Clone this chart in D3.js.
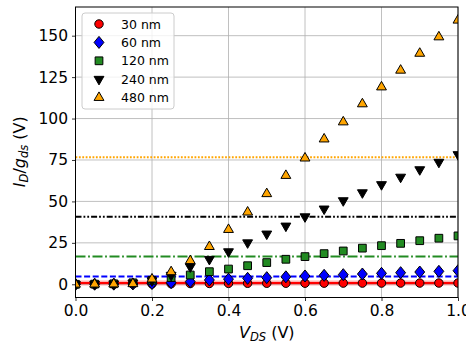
<!DOCTYPE html>
<html>
<head>
<meta charset="utf-8">
<script src="https://cdn.jsdelivr.net/npm/d3@7"></script>
<style>
  body { margin: 0; background: #fff; }
  text { font-family: "DejaVu Sans", sans-serif; }
</style>
</head>
<body>
<div id="chart"></div>
<script>
// V_DS sweep
var vds = [0, 0.05, 0.1, 0.15, 0.2, 0.25, 0.3, 0.35, 0.4, 0.45, 0.5,
           0.55, 0.6, 0.65, 0.7, 0.75, 0.8, 0.85, 0.9, 0.95, 1.0];

// I_D/g_ds per channel length
var l30  = [0, 0.03, 0.08, 0.15, 0.25, 0.35, 0.45, 0.5, 0.55, 0.6, 0.62,
            0.64, 0.66, 0.68, 0.7, 0.71, 0.72, 0.73, 0.74, 0.75, 0.76];
var l60  = [0, 0.05, 0.1, 0.2, 0.5, 1.0, 1.6, 2.6, 3.1, 3.6, 4.0,
            4.5, 5.0, 5.4, 5.8, 6.2, 6.6, 7.0, 7.4, 7.8, 8.2];
var l120 = [0, 0.1, 0.3, 0.9, 2.4, 4.0, 5.6, 7.6, 9.2, 11.2, 13.1,
            15.1, 16.7, 18.5, 20.1, 21.8, 23.3, 24.7, 26.3, 27.8, 29.2];
var l240 = [0, 0.1, 0.3, 0.8, 2.2, 5.5, 10.6, 15.1, 19.7, 25.1, 30.4,
            35.2, 40.8, 45.5, 50.5, 55.3, 60.2, 64.7, 69.2, 73.7, 78.3];
var l480 = [0, 0.05, 0.15, 0.3, 3.1, 7.5, 14.2, 22.7, 33.0, 43.5, 54.6,
            65.6, 76.1, 87.6, 97.9, 108.8, 119.0, 129.1, 139.3, 149.2, 159.3];

// horizontal reference levels
var refLevels = [0.8, 4.7, 16.7, 40.7, 76.6];

var labels = ["30 nm", "60 nm", "120 nm", "240 nm", "480 nm"];
var xTicks = [0, 0.2, 0.4, 0.6, 0.8, 1.0];
var yTicks = [0, 25, 50, 75, 100, 125, 150];

var series = [
  {name: labels[0], y: l30,  ref: refLevels[0], color: "#ff0000", shape: d3.symbolCircle,   size: 56, dash: null},
  {name: labels[1], y: l60,  ref: refLevels[1], color: "#0000ff", shape: d3.symbolDiamond,  size: 60, dash: "6,2.6"},
  {name: labels[2], y: l120, ref: refLevels[2], color: "#228b22", shape: d3.symbolSquare,   size: 60, dash: "10,2.6,1.8,2.6"},
  {name: labels[3], y: l240, ref: refLevels[3], color: "#000000", shape: "down",            size: 42, dash: "6,2,1.8,2,1.8,2"},
  {name: labels[4], y: l480, ref: refLevels[4], color: "#ffa500", shape: d3.symbolTriangle, size: 42, dash: "1.8,1.6"}
];

var W = 466, H = 343;
var m = {left: 75.5, right: 8, top: 7, bottom: 45.5};

var svg = d3.select("#chart").append("svg")
    .attr("width", W).attr("height", H);

var x = d3.scaleLinear().domain([0, 1]).range([m.left, W - m.right]);
var y = d3.scaleLinear().domain([-7.97, 167.3]).range([H - m.bottom, m.top]);

// grid
var grid = svg.append("g");
grid.selectAll(".gx").data(xTicks).enter().append("line")
    .attr("x1", d => x(d)).attr("x2", d => x(d))
    .attr("y1", m.top).attr("y2", H - m.bottom)
    .attr("stroke", "#b0b0b0").attr("stroke-width", 0.8);
grid.selectAll(".gy").data(yTicks).enter().append("line")
    .attr("x1", m.left).attr("x2", W - m.right)
    .attr("y1", d => y(d)).attr("y2", d => y(d))
    .attr("stroke", "#b0b0b0").attr("stroke-width", 0.8);

var plot = svg.append("g");

// reference lines
series.forEach(function(s, i) {
  if (i === 0) {
    plot.append("line")
      .attr("x1", m.left).attr("x2", W - m.right)
      .attr("y1", y(s.ref)).attr("y2", y(s.ref))
      .attr("stroke", s.color).attr("stroke-opacity", 0.3).attr("stroke-width", 5);
  }
  var ln = plot.append("line")
    .attr("x1", m.left).attr("x2", W - m.right)
    .attr("y1", y(s.ref)).attr("y2", y(s.ref))
    .attr("stroke", s.color).attr("stroke-width", 2);
  if (s.dash) ln.attr("stroke-dasharray", s.dash);
});

function symTransform(s, px, py) {
  if (s.shape === "down") return "translate(" + px + "," + py + ") rotate(180)";
  if (s.shape === d3.symbolDiamond) return "translate(" + px + "," + py + ") scale(0.9,1.1) rotate(45)";
  return "translate(" + px + "," + py + ")";
}
function markerD(s) {
  if (s.shape === d3.symbolDiamond) return d3.symbol(d3.symbolSquare, s.size)();
  if (s.shape === "down") return d3.symbol(d3.symbolTriangle, s.size)();
  return d3.symbol(s.shape, s.size)();
}

// markers
svg.append("clipPath").attr("id", "clip").append("rect")
    .attr("x", m.left).attr("y", m.top)
    .attr("width", W - m.left - m.right).attr("height", H - m.top - m.bottom);
var marks = svg.append("g").attr("clip-path", "url(#clip)");
series.forEach(function(s) {
  marks.append("g").selectAll("path").data(vds).enter().append("path")
    .attr("d", markerD(s))
    .attr("transform", (d, i) => symTransform(s, x(d), y(s.y[i])))
    .attr("fill", s.color)
    .attr("stroke", "#000").attr("stroke-width", 1)
    .attr("vector-effect", "non-scaling-stroke");
});

// axes box
svg.append("rect")
  .attr("x", m.left).attr("y", m.top)
  .attr("width", W - m.left - m.right).attr("height", H - m.top - m.bottom)
  .attr("fill", "none").attr("stroke", "#000").attr("stroke-width", 1);

var xAxis = svg.append("g")
  .attr("transform", "translate(0," + (H - m.bottom) + ")")
  .call(d3.axisBottom(x).tickValues(xTicks).tickFormat(d3.format(".1f")).tickSize(3.5).tickPadding(4));
var yAxis = svg.append("g")
  .attr("transform", "translate(" + m.left + ",0)")
  .call(d3.axisLeft(y).tickValues(yTicks).tickSize(3.5).tickPadding(4));
[xAxis, yAxis].forEach(function(a) {
  a.select(".domain").remove();
  a.selectAll("text").attr("font-size", 15.5).attr("fill", "#000")
    .attr("font-family", "DejaVu Sans");
  a.selectAll("line").attr("stroke", "#000").attr("stroke-width", 0.8);
});

// axis labels
var xl = svg.append("text").attr("x", x(0.5)).attr("y", 338)
  .attr("text-anchor", "middle").attr("font-size", 16);
xl.append("tspan").attr("font-style", "italic").text("V");
xl.append("tspan").attr("font-style", "italic").attr("font-size", 11.5).attr("dy", 3).text("DS");
xl.append("tspan").attr("dy", -3).text(" (V)");

var yl = svg.append("text")
  .attr("transform", "translate(25," + y(80) + ") rotate(-90)")
  .attr("text-anchor", "middle").attr("font-size", 16);
yl.append("tspan").attr("font-style", "italic").text("I");
yl.append("tspan").attr("font-style", "italic").attr("font-size", 11.5).attr("dy", 3).text("D");
yl.append("tspan").attr("dy", -3).text("/");
yl.append("tspan").attr("font-style", "italic").text("g");
yl.append("tspan").attr("font-style", "italic").attr("font-size", 11.5).attr("dy", 3).text("ds");
yl.append("tspan").attr("dy", -3).text(" (V)");

// legend
var lg = svg.append("g");
lg.append("rect").attr("x", 82).attr("y", 13).attr("width", 92).attr("height", 96)
  .attr("rx", 3).attr("fill", "#fff").attr("fill-opacity", 0.8)
  .attr("stroke", "#cccccc").attr("stroke-width", 1);
series.forEach(function(s, i) {
  var cy = 24 + i * 18.4;
  lg.append("path").attr("d", markerD(s))
    .attr("transform", symTransform(s, 99, cy))
    .attr("fill", s.color).attr("stroke", "#000").attr("stroke-width", 1)
    .attr("vector-effect", "non-scaling-stroke");
  lg.append("text").attr("x", 121).attr("y", cy + 4.5)
    .attr("font-size", 12.5).text(s.name);
});
</script>
</body>
</html>
